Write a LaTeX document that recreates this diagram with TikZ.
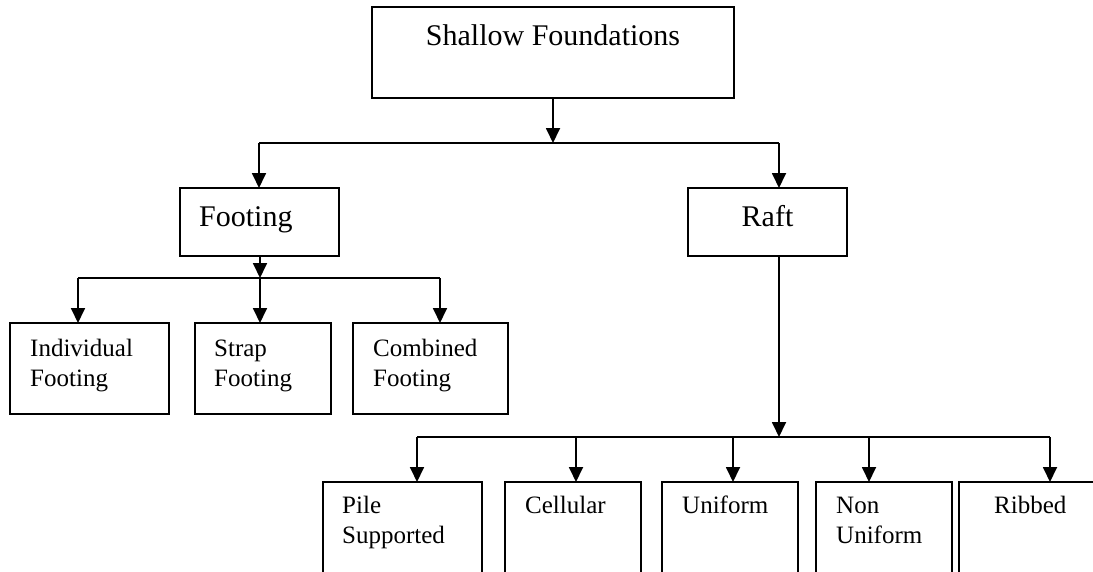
\documentclass[tikz,border=0pt]{standalone}
\usepackage{fontspec}
\setmainfont{Liberation Serif}
\usetikzlibrary{arrows.meta}
\tikzset{
  box/.style={draw, line width=1.8pt, rectangle, inner sep=0pt, outer sep=0pt, anchor=north west},
  lbl/.style={inner sep=0pt, font=\fontsize{25}{30}\selectfont, anchor=base west},
  biglbl/.style={inner sep=0pt, font=\fontsize{30}{36}\selectfont},
  conn/.style={line width=1.8pt},
  arr/.style={line width=1.8pt, -{Triangle[length=15pt,width=14pt]}}
}
\newcommand{\twolines}[2]{\begin{tabular}[t]{@{}l@{}}#1\\#2\end{tabular}}
\begin{document}
\begin{tikzpicture}[x=1pt,y=1pt]
\useasboundingbox (0,0) rectangle (1093,-571);
\clip (0,0) rectangle (1093,-571);
% boxes
\node[box, minimum width=362pt, minimum height=91pt] (top) at (372,-7) {};
\node[box, minimum width=159pt, minimum height=68pt] (footing) at (180,-188) {};
\node[box, minimum width=159pt, minimum height=68pt] (raft) at (688,-188) {};
\node[box, minimum width=159pt, minimum height=91pt] (indiv) at (10,-323) {};
\node[box, minimum width=136pt, minimum height=91pt] (strap) at (195,-323) {};
\node[box, minimum width=155pt, minimum height=91pt] (comb) at (353,-323) {};
\node[box, minimum width=159pt, minimum height=130pt] (pile) at (323,-482) {};
\node[box, minimum width=136pt, minimum height=130pt] (cell) at (505,-482) {};
\node[box, minimum width=136pt, minimum height=130pt] (unif) at (662,-482) {};
\node[box, minimum width=136pt, minimum height=130pt] (nonu) at (816,-482) {};
\node[box, minimum width=160pt, minimum height=130pt] (rib) at (959,-482) {};
% texts
\node[biglbl, anchor=base] (ttop) at (553,-45) {Shallow Foundations};
\node[biglbl, anchor=base west] (tfoot) at (199,-226) {Footing};
\node[biglbl, anchor=base] (traft) at (767.5,-226) {Raft};
\node[lbl] (tindiv) at (30,-356) {\twolines{Individual}{Footing}};
\node[lbl] (tstrap) at (214,-356) {\twolines{Strap}{Footing}};
\node[lbl] (tcomb) at (373,-356) {\twolines{Combined}{Footing}};
\node[lbl] (tpile) at (342,-513) {\twolines{Pile}{Supported}};
\node[lbl] (tcell) at (525,-513) {Cellular};
\node[lbl] (tunif) at (682,-513) {Uniform};
\node[lbl] (tnonu) at (836,-513) {\twolines{Non}{Uniform}};
\node[lbl] (trib) at (994,-513) {Ribbed};
% junctions
\coordinate (j1) at (553,-143);
\coordinate (j1L) at (259,-143);
\coordinate (j1R) at (779,-143);
\coordinate (j2) at (260,-278);
\coordinate (j2L) at (78,-278);
\coordinate (j2R) at (440,-278);
\coordinate (j3) at (779,-437);
\coordinate (j3L) at (417,-437);
\coordinate (j3a) at (576,-437);
\coordinate (j3b) at (733,-437);
\coordinate (j3c) at (869,-437);
\coordinate (j3R) at (1050,-437);
% level 1
\draw[arr] (j1 |- top.south) -- (j1);
\draw[conn] (j1L) -- (j1R);
\draw[arr] (j1L) -- (j1L |- footing.north);
\draw[arr] (j1R) -- (j1R |- raft.north);
% footing branch
\draw[arr] (j2 |- footing.south) -- (j2);
\draw[conn] (j2L) -- (j2R);
\draw[arr] (j2L) -- (j2L |- indiv.north);
\draw[arr] (j2) -- (j2 |- strap.north);
\draw[arr] (j2R) -- (j2R |- comb.north);
% raft branch
\draw[arr] (j3 |- raft.south) -- (j3);
\draw[conn] (j3L) -- (j3R);
\draw[arr] (j3L) -- (j3L |- pile.north);
\draw[arr] (j3a) -- (j3a |- cell.north);
\draw[arr] (j3b) -- (j3b |- unif.north);
\draw[arr] (j3c) -- (j3c |- nonu.north);
\draw[arr] (j3R) -- (j3R |- rib.north);
\end{tikzpicture}
\end{document}
